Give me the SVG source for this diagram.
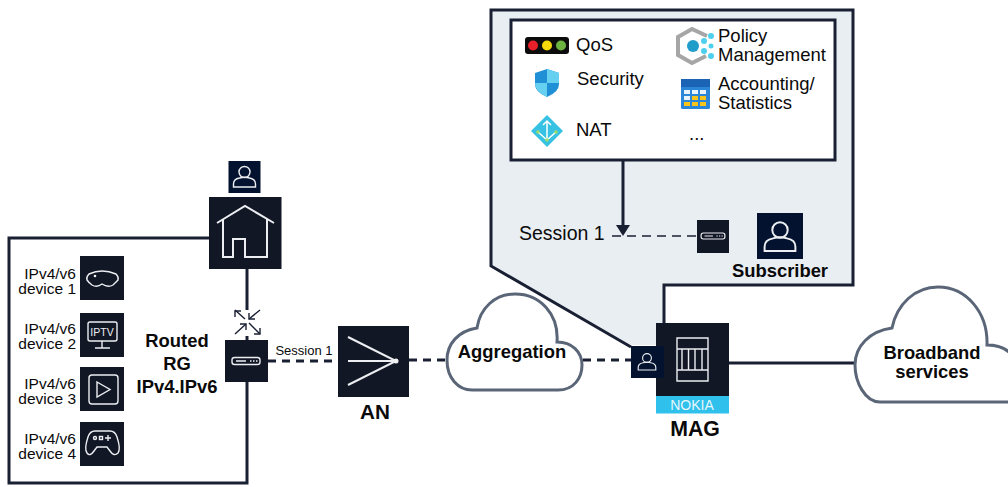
<svg xmlns="http://www.w3.org/2000/svg" width="1008" height="487" viewBox="0 0 1008 487">
<defs>
<style>
text{font-family:"Liberation Sans",Arial,sans-serif;fill:#0a0a0a}
.b{font-weight:700;font-size:18.400px}
.dl{font-size:15.500px;text-anchor:end}
.p{font-size:18.500px}
.n{fill:#121726}
.nb{fill:#03132f}
.w{fill:none;stroke:#eceef1;stroke-width:1.400}
.line{fill:none;stroke:#1a2033;stroke-width:3}
.d{fill:none;stroke:#1a2033;stroke-width:3;stroke-dasharray:8 6}
.cloud{fill:#fff;stroke:#5a6678;stroke-width:3}
.ar{fill:none;stroke:#1a2033;stroke-width:1.400}
</style>
<g id="person"><circle cx="0" cy="-5" r="5.500" class="w"/><path d="M-11 10V7Q-11 2-5 1Q0 -0.500 5 1Q11 2 11 7V10Z" class="w"/></g>
<g id="modem"><rect x="-14" y="-3.500" width="28" height="7" rx="2.500" class="w"/><path d="M-10 0H0M4 0h1.500M7 0h1.500M10 0h1.500" class="w"/></g>
</defs>

<g id="callout">
<path d="M491 10H853V285H664V323L656 345H631L491 266Z" fill="#e9eef3"/>
<path d="M664 323V285H853V10H491V266L631 347" class="line"/>
</g>

<g id="rg-frame"><path d="M209 238H9V483H247V380" class="line"/></g>

<g id="connectors">
<path d="M623 161V227" class="line"/>
<path d="M623 236L616 225H630Z" fill="#1a2033"/>
<path d="M612 236H697" fill="none" stroke="#1a2033" stroke-width="1.500" stroke-dasharray="9 6"/>
<path d="M247 268V310M247 336V341" class="line"/>
<path d="M268 361H338" class="d"/>
<path d="M409 360H446" class="d"/>
<path d="M583 360H631" class="d"/>
<path d="M728 363H856" class="line"/>
<path d="M235 310L245 319M260 310L249 319M235 334L246 324M249 323L260 334" class="ar"/>
<path d="M241 311H235V317M249 313V319H255M240 324H246V330M260 328V334H254" class="ar"/>
</g>

<g id="policy-box">
<rect x="511" y="20" width="324" height="140" fill="#fff" stroke="#1a2033" stroke-width="3"/>
<text x="576" y="51" class="p">QoS</text>
<text x="577" y="85" class="p">Security</text>
<text x="576" y="136" class="p">NAT</text>
<text x="718" y="42" class="p">Policy</text>
<text x="718" y="61" class="p">Management</text>
<text x="718" y="90" class="p">Accounting/</text>
<text x="718" y="109" class="p">Statistics</text>
<text x="689" y="140" class="p">...</text>
<rect x="525" y="37" width="44" height="17" rx="3" fill="#0c0c0c"/>
<circle cx="533" cy="45.500" r="5" fill="#e8202a"/><circle cx="547" cy="45.500" r="5" fill="#f5d90a"/><circle cx="561" cy="45.500" r="5" fill="#6cb33f"/>
<path d="M547 69L559 73V84Q559 92 547 97Q535 92 535 84V73Z" fill="#1f8fd6"/>
<path d="M547 69V83H559V73ZM547 83V97Q535 92 535 83Z" fill="#66d0f0"/>
<path d="M547 115L563 131L547 147L531 131Z" fill="#37c2e4"/>
<path d="M547 140V121M543 125L547 121L551 125M547 140L538 132M547 140L556 132" fill="none" stroke="#fff" stroke-width="1.500"/>
<circle cx="538" cy="132" r="1.800" fill="#9fdc6a"/><circle cx="556" cy="132" r="1.800" fill="#9fdc6a"/><circle cx="547" cy="140" r="1.800" fill="#9fdc6a"/>
<path d="M707 36L692 29L678 37V55L692 63L706 56" fill="none" stroke="#a6a6a6" stroke-width="4"/>
<circle cx="693" cy="46" r="6" fill="#1f9cc9"/>
<g fill="#4dd0ee"><circle cx="704" cy="41" r="3"/><circle cx="704" cy="51" r="3"/><circle cx="711" cy="36" r="3"/><circle cx="711" cy="46" r="2.500"/><circle cx="711" cy="56" r="3"/></g>
<rect x="681" y="79" width="29" height="30" rx="1.500" fill="#2b86d8"/>
<rect x="681" y="79" width="29" height="8" fill="#1b64b5"/>
<g fill="#e8f2fb"><rect x="684" y="90" width="6" height="4"/><rect x="692" y="90" width="6" height="4"/><rect x="700" y="90" width="6" height="4"/><rect x="684" y="96" width="6" height="4"/></g>
<g fill="#fcc419"><rect x="692" y="96" width="6" height="4"/><rect x="700" y="96" width="6" height="4"/><rect x="684" y="102" width="6" height="4"/><rect x="692" y="102" width="6" height="4"/><rect x="700" y="102" width="6" height="4"/></g>
</g>

<g id="session-detail">
<text x="519" y="240" font-size="19.500">Session 1</text>
<rect x="697" y="220" width="32" height="33" class="n"/>
<use href="#modem" transform="translate(713 236) scale(.85)"/>
</g>
<g id="subscriber">
<rect x="757" y="213" width="46" height="46" class="nb"/>
<use href="#person" transform="translate(780 237) scale(1.400)"/>
<text x="780" y="277" class="b" text-anchor="middle">Subscriber</text>
</g>

<g id="home">
<rect x="228.500" y="161" width="32" height="32" class="nb"/>
<use href="#person" transform="translate(244.500 177)"/>
<rect x="209" y="197" width="72.500" height="72" class="n"/>
<path d="M217 223L245 206L274 223M223 219V257H233V239H245V257H267V219" class="w" style="stroke-width:2"/>
</g>

<g id="device1"><rect x="80" y="256" width="44" height="44" class="n"/><path d="M89 274Q102 268 116 274Q119 277 118 280Q115 283 113 285Q108 288 102 284Q97 288 92 285Q89 283 87 280Q86 277 89 274Z" class="w"/><circle cx="95" cy="276" r="1.300" fill="#f2f2f2"/><text x="76" y="279" class="dl">IPv4/v6</text><text x="76" y="294" class="dl">device 1</text></g>
<g id="device2"><rect x="80" y="313" width="44" height="44" class="n"/><rect x="88" y="322" width="29" height="19" rx="2" class="w"/><path d="M102 341V348M95 348H110" class="w"/><text x="102" y="336" font-size="10.500" text-anchor="middle" style="fill:#eceef1">IPTV</text><text x="76" y="334" class="dl">IPv4/v6</text><text x="76" y="349" class="dl">device 2</text></g>
<g id="device3"><rect x="80" y="367" width="44" height="44" class="n"/><rect x="89" y="375" width="29" height="29" rx="3" class="w"/><path d="M97 382L110 389.500L97 397Z" class="w"/><text x="76" y="389" class="dl">IPv4/v6</text><text x="76" y="404" class="dl">device 3</text></g>
<g id="device4"><rect x="80" y="422" width="44" height="44" class="n"/><path d="M95 431H110Q115 431 117 437Q121 449 118 453Q114 457 110 451L107 447H97L94 451Q90 457 87 453Q84 449 88 437Q90 431 95 431Z" class="w"/><circle cx="95" cy="438" r="1.500" class="w"/><rect x="99.500" y="436.500" width="3" height="3" class="w"/><path d="M105 438h6M108 435v6" class="w"/><text x="76" y="444" class="dl">IPv4/v6</text><text x="76" y="459" class="dl">device 4</text></g>

<g id="rg">
<rect x="225" y="340" width="43" height="42" class="n"/>
<use href="#modem" transform="translate(246 361)"/>
<text x="177" y="347" class="b" text-anchor="middle">Routed</text>
<text x="177" y="370" class="b" text-anchor="middle">RG</text>
<text x="177" y="393" class="b" text-anchor="middle">IPv4.IPv6</text>
<text x="304" y="355" font-size="13" text-anchor="middle">Session 1</text>
</g>

<g id="an">
<rect x="338" y="326" width="71" height="71" class="n"/>
<path d="M348 337L396 361L348 385M348 361H396" class="w" style="stroke-width:2"/>
<circle cx="396" cy="361" r="2.500" fill="#f2f2f2"/>
<text x="375" y="419" font-size="20.700" font-weight="700" text-anchor="middle">AN</text>
</g>

<g id="aggregation">
<path d="M472 390H558C574 390 582 378 582 365C582 352 572 342 557 342C559 314 540 294 515 294C495 294 480 308 477 328C458 331 447 344 447 360C447 378 458 390 472 390Z" class="cloud"/>
<text x="512" y="358" class="b" text-anchor="middle">Aggregation</text>
</g>

<g id="mag">
<rect x="656" y="323" width="73" height="73" class="n"/>
<rect x="656" y="396" width="73" height="17.500" fill="#2fc0ec"/>
<text x="692" y="410" font-size="14" text-anchor="middle" style="fill:#e8f7fc">NOKIA</text>
<path d="M677 338H708V381H677ZM677 349H708M677 370H708M682 349V370M688.500 349V370M695 349V370M702 349V370" class="w"/>
<rect x="631" y="346" width="33" height="32" class="nb"/>
<use href="#person" transform="translate(647 362) scale(.8)"/>
<text x="695" y="436" font-size="21.300" font-weight="700" text-anchor="middle">MAG</text>
</g>

<g id="broadband">
<path d="M1010 402H880C865 402 855 382 855 365C855 346 870 331 892 328C897 304 915 287 938 287C966 287 988 312 987 345C996 345 1004 347 1010 353Z" fill="#fff"/>
<path d="M1010 402H880C865 402 855 382 855 365C855 346 870 331 892 328C897 304 915 287 938 287C966 287 988 312 987 345C996 345 1004 347 1010 353" class="cloud" style="fill:none"/>
<text x="932" y="359" class="b" text-anchor="middle">Broadband</text>
<text x="932" y="378" class="b" text-anchor="middle">services</text>
</g>
</svg>
